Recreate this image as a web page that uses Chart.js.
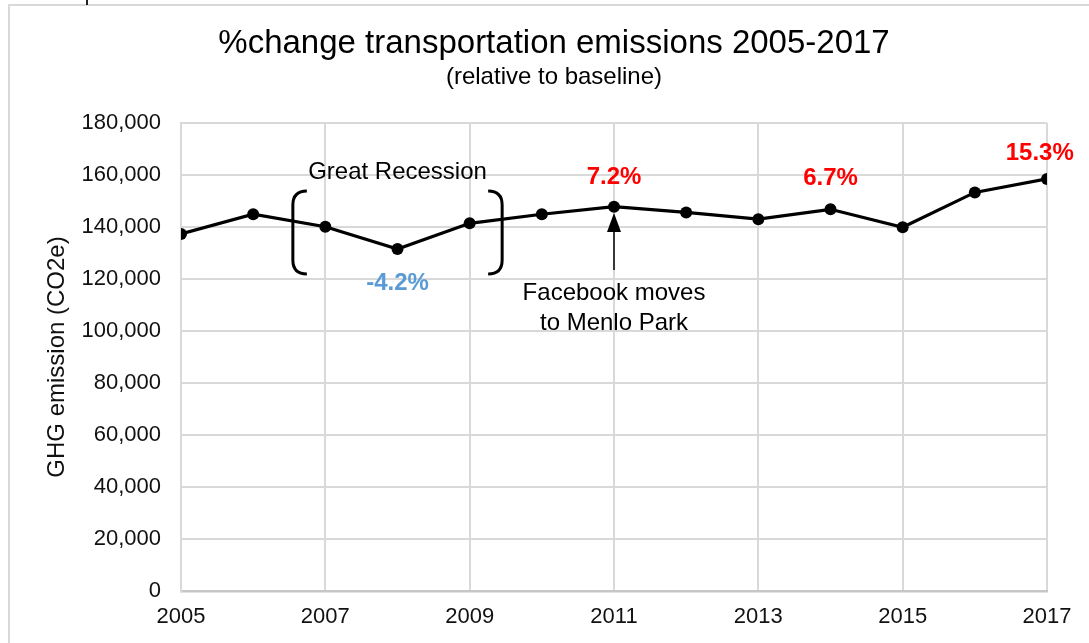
<!DOCTYPE html>
<html>
<head>
<meta charset="utf-8">
<title>%change transportation emissions 2005-2017</title>
<script src="https://cdn.jsdelivr.net/npm/chart.js@4.4.1/dist/chart.umd.min.js"></script>
<style>
  html, body { margin: 0; padding: 0; background: #fff; }
  #wrap { position: relative; width: 1089px; height: 643px; overflow: hidden; }
  #frame { position: absolute; left: 8px; top: 4px; right: -10px; bottom: -10px;
           border-left: 2px solid #d9d9d9; border-top: 2px solid #d9d9d9; }
  #mark { position: absolute; left: 86px; top: 0; width: 2px; height: 5px; background: #222; }
  canvas { position: absolute; left: 0; top: 0; }
</style>
</head>
<body>
<div id="wrap">
  <div id="frame"></div>
  <div id="mark"></div>
  <canvas id="chart" width="1089" height="643"></canvas>
</div>
<script>
// données
const years = [2005, 2006, 2007, 2008, 2009, 2010, 2011, 2012, 2013, 2014, 2015, 2016, 2017];
const emissions = [137300, 144900, 140100, 131500, 141400, 144900, 147800, 145600, 143000, 146800, 139900, 153300, 158500];
const xTickYears = [2005, 2007, 2009, 2011, 2013, 2015, 2017];
const yTickValues = [0, 20000, 40000, 60000, 80000, 100000, 120000, 140000, 160000, 180000];

const chartTitle = '%change transportation emissions 2005-2017';
const chartSubtitle = '(relative to baseline)';
const yAxisTitle = 'GHG emission (CO2e)';

// étiquettes de variation (année, valeur où le texte est centré)
const pctLabels = [
    { text: '-4.2%', year: 2008, value: 118500, color: '#5b9bd5' },
    { text: '7.2%', year: 2011, value: 159200, color: '#ff0000' },
    { text: '6.7%', year: 2014, value: 158800, color: '#ff0000' },
    { text: '15.3%', year: 2016.9, value: 168500, color: '#ff0000' }
];
const recession = { text: 'Great Recession', year: 2008, value: 161200, from: 2006.55, to: 2009.45, top: 153800, bottom: 121900 };
const facebook = { lines: ['Facebook moves', 'to Menlo Park'], year: 2011, values: [114600, 103000], arrowFrom: 123500, arrowTo: 145400 };

const FONT = "'Liberation Sans', Arial, sans-serif";
Chart.defaults.font.family = FONT;

/**
 * Dessine titres et annotations par-dessus le graphique.
 */
const notesPlugin = {
    id: 'notes',
    afterDraw(chart) {
        const { ctx, scales: { x, y } } = chart;
        ctx.save();
        ctx.fillStyle = '#000';
        ctx.textAlign = 'center';

        // titres
        ctx.textBaseline = 'alphabetic';
        ctx.font = `33px ${FONT}`;
        ctx.fillText(chartTitle, 554, 53);
        ctx.font = `24px ${FONT}`;
        ctx.fillText(chartSubtitle, 554, 84);

        ctx.textBaseline = 'middle';

        // Great Recession + accolades
        ctx.font = `24px ${FONT}`;
        ctx.fillText(recession.text, x.getPixelForValue(recession.year), y.getPixelForValue(recession.value));
        const top = y.getPixelForValue(recession.top);
        const bottom = y.getPixelForValue(recession.bottom);
        const drawBracket = (xv, dir) => {
            const px = x.getPixelForValue(xv);
            const w = 14 * dir;
            ctx.beginPath();
            ctx.moveTo(px + w, top);
            ctx.quadraticCurveTo(px, top, px, top + 14);
            ctx.lineTo(px, bottom - 14);
            ctx.quadraticCurveTo(px, bottom, px + w, bottom);
            ctx.stroke();
        };
        ctx.strokeStyle = '#000';
        ctx.lineWidth = 3;
        drawBracket(recession.from, 1);
        drawBracket(recession.to, -1);

        // pourcentages
        ctx.font = `bold 24px ${FONT}`;
        pctLabels.forEach(l => {
            ctx.fillStyle = l.color;
            ctx.fillText(l.text, x.getPixelForValue(l.year), y.getPixelForValue(l.value));
        });

        // flèche Facebook
        const ax = x.getPixelForValue(facebook.year);
        const ay0 = y.getPixelForValue(facebook.arrowFrom);
        const ay1 = y.getPixelForValue(facebook.arrowTo);
        ctx.strokeStyle = '#000';
        ctx.lineWidth = 1.5;
        ctx.beginPath();
        ctx.moveTo(ax, ay0);
        ctx.lineTo(ax, ay1 + 18);
        ctx.stroke();
        ctx.fillStyle = '#000';
        ctx.beginPath();
        ctx.moveTo(ax, ay1);
        ctx.lineTo(ax - 7, ay1 + 19);
        ctx.lineTo(ax + 7, ay1 + 19);
        ctx.closePath();
        ctx.fill();

        ctx.font = `24px ${FONT}`;
        facebook.lines.forEach((t, i) => {
            ctx.fillText(t, ax, y.getPixelForValue(facebook.values[i]));
        });
        ctx.restore();
    }
};

new Chart(document.getElementById('chart'), {
    type: 'line',
    data: {
        datasets: [{
            data: years.map((yr, i) => ({ x: yr, y: emissions[i] })),
            borderColor: '#000',
            borderWidth: 3.2,
            pointRadius: 6,
            pointBackgroundColor: '#000',
            pointBorderWidth: 0,
            tension: 0
        }]
    },
    options: {
        responsive: false,
        animation: false,
        layout: { padding: { top: 123, left: 9, right: 42, bottom: 0 } },
        plugins: {
            legend: { display: false },
            tooltip: { enabled: false },
            title: { display: false }
        },
        scales: {
            x: {
                type: 'linear',
                min: 2005,
                max: 2017,
                afterBuildTicks: s => { s.ticks = xTickYears.map(v => ({ value: v })); },
                afterFit: s => { s.height = 52; },
                grid: { color: '#d9d9d9', lineWidth: 2, drawTicks: false },
                border: { color: '#c6c6c6', width: 2.5 },
                ticks: {
                    padding: 13, color: '#111', font: { size: 22 },
                    maxRotation: 0, autoSkip: false,
                    callback: v => String(v)
                }
            },
            y: {
                min: 0,
                max: 180000,
                afterBuildTicks: s => { s.ticks = yTickValues.map(v => ({ value: v })); },
                afterFit: s => { s.width = 172; },
                grid: { color: '#d9d9d9', lineWidth: 2, drawTicks: false },
                border: { color: '#d9d9d9', width: 2 },
                ticks: {
                    padding: 20, color: '#111', font: { size: 22 },
                    callback: v => v.toLocaleString('en-US')
                },
                title: {
                    display: true,
                    text: yAxisTitle,
                    color: '#111',
                    font: { size: 24 },
                    padding: { top: 34, bottom: 0 }
                }
            }
        }
    },
    plugins: [notesPlugin]
});
</script>
</body>
</html>
